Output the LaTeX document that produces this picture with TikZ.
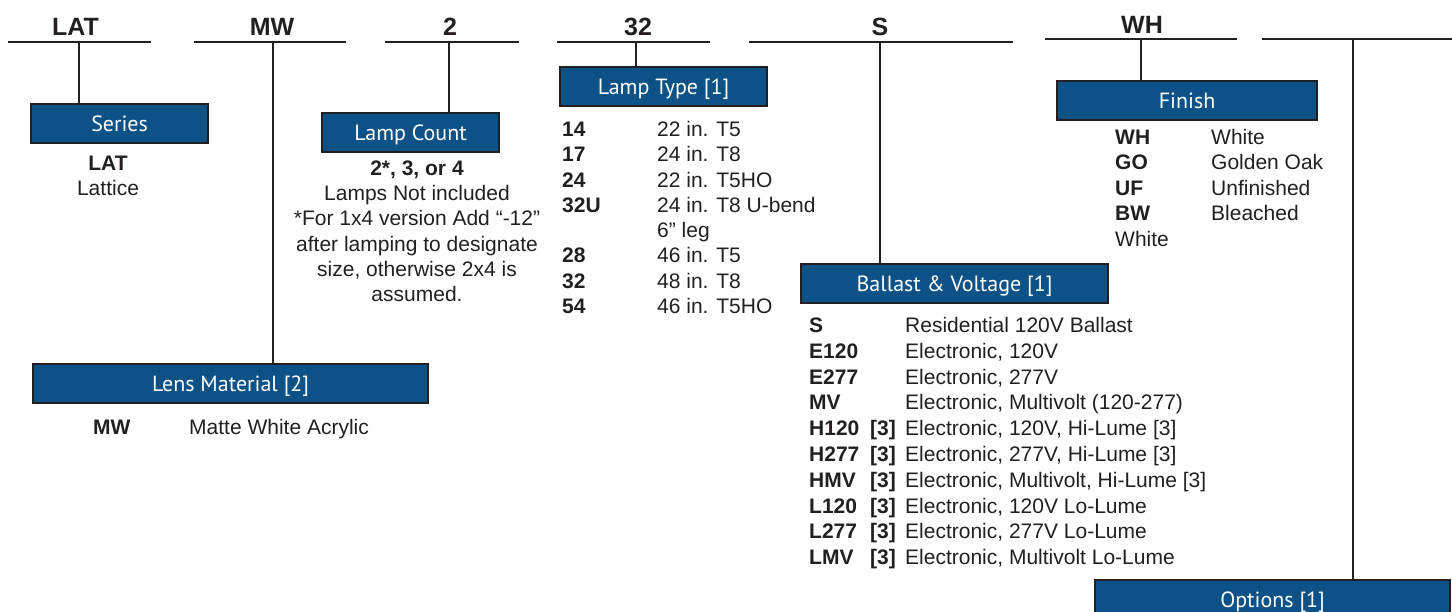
\documentclass[tikz,border=0pt]{standalone}
\usepackage{fontspec}
\setmainfont{Liberation Sans}
\newfontfamily\boxfont{PT Sans}
\definecolor{ink}{RGB}{35,31,32}
\definecolor{boxblue}{RGB}{12,82,134}
\begin{document}
\begin{tikzpicture}[x=1pt,y=-1pt,
  hdr/.style={font=\fontsize{25}{30}\selectfont\bfseries, text=ink, anchor=base, inner sep=0pt},
  hline/.style={draw=ink, line width=1.6pt},
  conn/.style={draw=ink, line width=1.6pt},
  cat/.style={draw=ink, line width=2.2pt, fill=boxblue, text=white, font=\boxfont\fontsize{22}{26}\selectfont,
    inner sep=0pt, anchor=north west, minimum height=39pt, text height=20pt, text depth=4.5pt},
  txt/.style={font=\fontsize{21}{25}\selectfont, text=ink, inner sep=0pt, anchor=base west},
  code/.style={txt, font=\fontsize{21}{25}\selectfont\bfseries},
  ctr/.style={txt, anchor=base},
  ctrb/.style={code, anchor=base},
]
\useasboundingbox (0,0) rectangle (1452,612);

% ---------- header lines ----------
\coordinate (l1a) at (8,42);    \coordinate (l1b) at (151,42);
\coordinate (l2a) at (194,42);  \coordinate (l2b) at (346,42);
\coordinate (l3a) at (385,42);  \coordinate (l3b) at (519,42);
\coordinate (l4a) at (557,42);  \coordinate (l4b) at (710,42);
\coordinate (l5a) at (749,42);  \coordinate (l5b) at (1013,42);
\coordinate (l6a) at (1045,39); \coordinate (l6b) at (1237,39);
\coordinate (l7a) at (1262,39); \coordinate (l7b) at (1452,39);
\draw[hline] (l1a) -- (l1b);
\draw[hline] (l2a) -- (l2b);
\draw[hline] (l3a) -- (l3b);
\draw[hline] (l4a) -- (l4b);
\draw[hline] (l5a) -- (l5b);
\draw[hline] (l6a) -- (l6b);
\draw[hline] (l7a) -- (l7b);

\node[hdr] (hLAT) at (75.5,36) {LAT};
\node[hdr] (hMW)  at (272,36)  {MW};
\node[hdr] (h2)   at (450,36)  {2};
\node[hdr] (h32)  at (638,36)  {32};
\node[hdr] (hS)   at (880,36)  {S};
\node[hdr] (hWH)  at (1142,34) {WH};

% connector roots
\coordinate (c1) at (79,42);
\coordinate (c2) at (273,42);
\coordinate (c3) at (449,42);
\coordinate (c4) at (636,42);
\coordinate (c5) at (880,42);
\coordinate (c6) at (1141,39);
\coordinate (c7) at (1353,39);

% ---------- category boxes ----------
\node[cat, minimum width=177pt] (series)  at (30,103)   {Series};
\node[cat, minimum width=177pt] (lcount)  at (321,112)  {Lamp Count};
\node[cat, minimum width=207pt] (ltype)   at (559,66)   {Lamp Type [1]};
\node[cat, minimum width=260pt] (finish)  at (1056,80)  {Finish};
\node[cat, minimum width=307pt] (ballast) at (800,263)  {Ballast \& Voltage [1]};
\node[cat, minimum width=395pt] (lens)    at (32,363)   {Lens Material [2]};
\node[cat, minimum width=355pt] (options) at (1094,579) {Options [1]};

% ---------- connectors ----------
\draw[conn] (c1) -- (c1 |- series.north);
\draw[conn] (c2) -- (c2 |- lens.north);
\draw[conn] (c3) -- (c3 |- lcount.north);
\draw[conn] (c4) -- (c4 |- ltype.north);
\draw[conn] (c5) -- (c5 |- ballast.north);
\draw[conn] (c6) -- (c6 |- finish.north);
\draw[conn] (c7) -- (c7 |- options.north);

% ---------- Series ----------
\node[ctrb] (sc) at (108,170.5) {LAT};
\node[ctr]  (sd) at (108,195.5) {Lattice};

% ---------- Lamp Count ----------
\node[ctrb] (lc1) at (417,175.5) {2*, 3, or 4};
\node[ctr]  (lc2) at (417,200.7) {Lamps Not included};
\node[ctr]  (lc3) at (417,225.9) {*For 1x4 version Add “-12”};
\node[ctr]  (lc4) at (417,251.1) {after lamping to designate};
\node[ctr]  (lc5) at (417,276.3) {size, otherwise 2x4 is};
\node[ctr]  (lc6) at (417,301.5) {assumed.};

% ---------- Lamp Type ----------
\node[code] (t1c) at (562,136.5) {14};  \node[txt] (t1d) at (657,136.5) {22 in. T5};
\node[code] (t2c) at (562,161.8) {17};  \node[txt] (t2d) at (657,161.8) {24 in. T8};
\node[code] (t3c) at (562,187.1) {24};  \node[txt] (t3d) at (657,187.1) {22 in. T5HO};
\node[code] (t4c) at (562,212.4) {32U}; \node[txt] (t4d) at (657,212.4) {24 in. T8 U-bend};
                                        \node[txt] (t5d) at (657,237.7) {6” leg};
\node[code] (t6c) at (562,263.0) {28};  \node[txt] (t6d) at (657,263.0) {46 in. T5};
\node[code] (t7c) at (562,288.3) {32};  \node[txt] (t7d) at (657,288.3) {48 in. T8};
\node[code] (t8c) at (562,313.6) {54};  \node[txt] (t8d) at (657,313.6) {46 in. T5HO};

% ---------- Finish ----------
\node[code] (f1c) at (1115,144.5) {WH}; \node[txt] (f1d) at (1211,144.5) {White};
\node[code] (f2c) at (1115,170.0) {GO}; \node[txt] (f2d) at (1211,170.0) {Golden Oak};
\node[code] (f3c) at (1115,195.5) {UF}; \node[txt] (f3d) at (1211,195.5) {Unfinished};
\node[code] (f4c) at (1115,221.0) {BW}; \node[txt] (f4d) at (1211,221.0) {Bleached};
\node[txt]  (f5c) at (1115,246.5) {White};

% ---------- Ballast ----------
\node[code] (b1c)  at (809,332.5) {S};    \node[txt] (b1d)  at (905,332.5) {Residential 120V Ballast};
\node[code] (b2c)  at (809,358.3) {E120}; \node[txt] (b2d)  at (905,358.3) {Electronic, 120V};
\node[code] (b3c)  at (809,384.1) {E277}; \node[txt] (b3d)  at (905,384.1) {Electronic, 277V};
\node[code] (b4c)  at (809,409.9) {MV};   \node[txt] (b4d)  at (905,409.9) {Electronic, Multivolt (120-277)};
\node[code] (b5c)  at (809,435.7) {H120}; \node[code] (b5n)  at (870,435.7) {[3]}; \node[txt] (b5d)  at (905,435.7) {Electronic, 120V, Hi-Lume [3]};
\node[code] (b6c)  at (809,461.5) {H277}; \node[code] (b6n)  at (870,461.5) {[3]}; \node[txt] (b6d)  at (905,461.5) {Electronic, 277V, Hi-Lume [3]};
\node[code] (b7c)  at (809,487.3) {HMV};  \node[code] (b7n)  at (870,487.3) {[3]}; \node[txt] (b7d)  at (905,487.3) {Electronic, Multivolt, Hi-Lume [3]};
\node[code] (b8c)  at (809,513.1) {L120}; \node[code] (b8n)  at (870,513.1) {[3]}; \node[txt] (b8d)  at (905,513.1) {Electronic, 120V Lo-Lume};
\node[code] (b9c)  at (809,538.9) {L277}; \node[code] (b9n)  at (870,538.9) {[3]}; \node[txt] (b9d)  at (905,538.9) {Electronic, 277V Lo-Lume};
\node[code] (b10c) at (809,564.7) {LMV};  \node[code] (b10n) at (870,564.7) {[3]}; \node[txt] (b10d) at (905,564.7) {Electronic, Multivolt Lo-Lume};

% ---------- Lens ----------
\node[code] (mc) at (93,434.5)  {MW};
\node[txt]  (md) at (189,434.5) {Matte White Acrylic};
\end{tikzpicture}
\end{document}
